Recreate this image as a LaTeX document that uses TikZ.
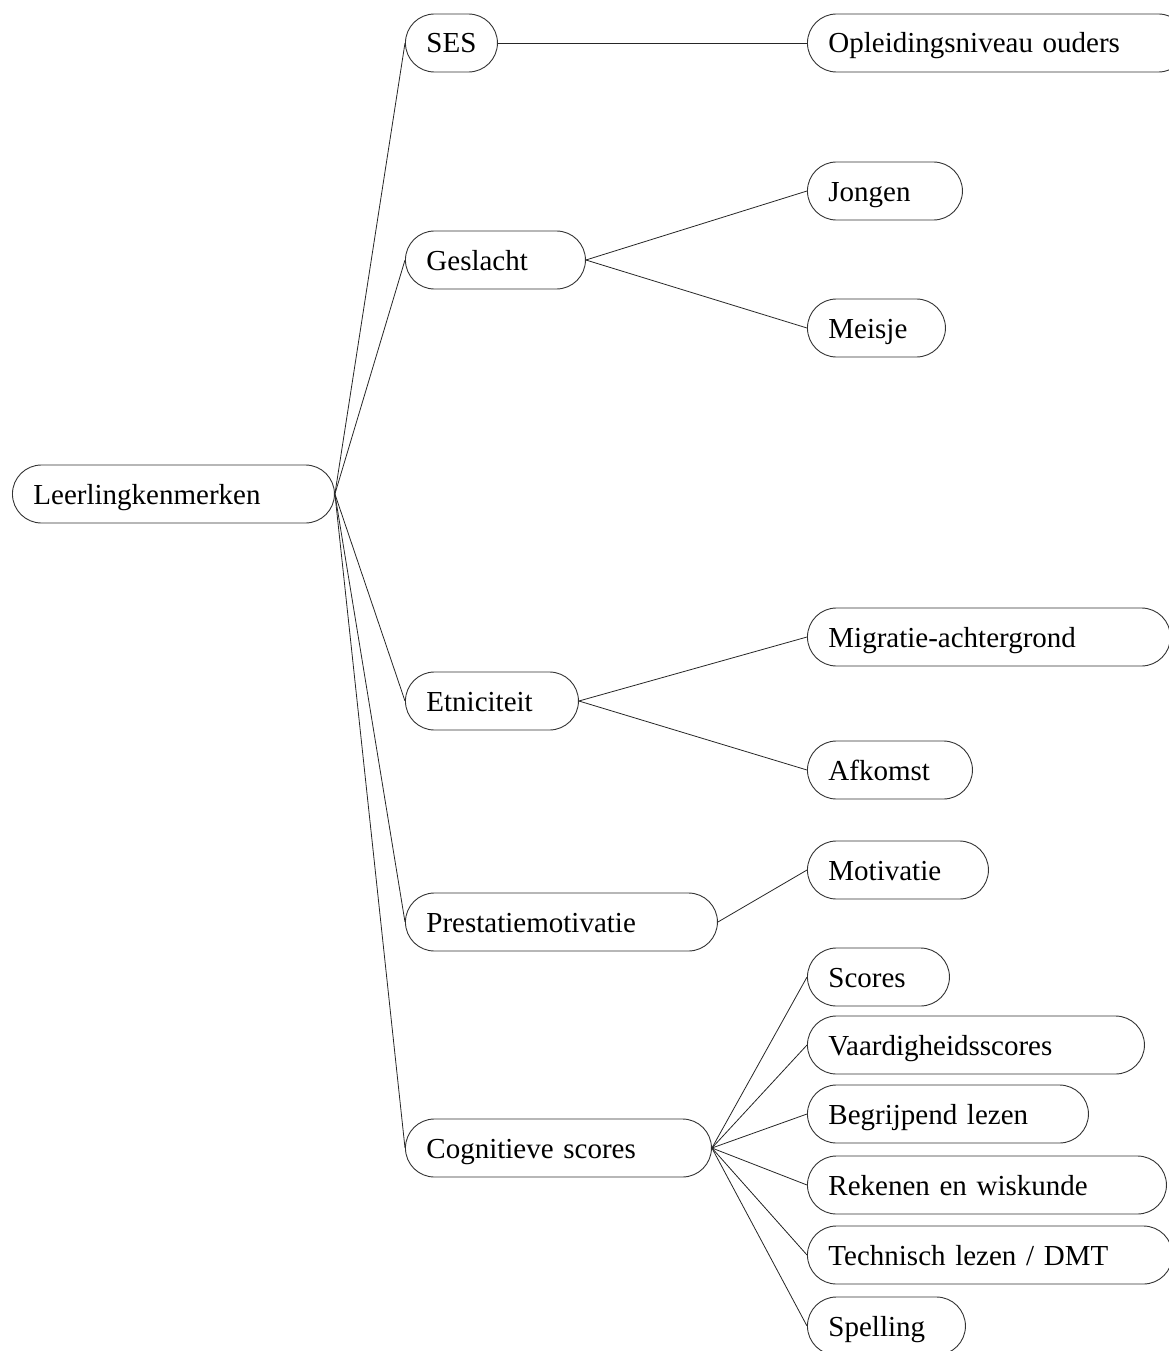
\documentclass[tikz,border=0pt]{standalone}
\usepackage{fontspec}
\setmainfont{Liberation Serif}
\usepackage{tikz}
\usetikzlibrary{positioning}

\tikzset{
  kenmerk/.style={draw=black!80, line width=0.9pt, rounded corners=29pt,
    minimum height=58pt, inner xsep=21pt, inner ysep=0pt, anchor=west,
    text height=25pt, text depth=5pt,
    align=left, text width=#1, font=\fontsize{29}{34}\selectfont},
  tak/.style={draw=black!85, line width=0.8pt}
}

\begin{document}
\begin{tikzpicture}[x=1pt, y=-1pt]
        \useasboundingbox (0,0) rectangle (1169,1351);
        \clip (0,0) rectangle (1169,1351);
        % root
        \node[kenmerk=280pt] (leerling) at (12,494) {Leerlingkenmerken};
        % first level
        \node[kenmerk=50pt] (ses) at (405,43) {SES};
        \node[kenmerk=138pt] (geslacht) at (405,260) {Geslacht};
        \node[kenmerk=131pt] (etniciteit) at (405,701) {Etniciteit};
        \node[kenmerk=270pt] (prestatie) at (405,922) {Prestatiemotivatie};
        \node[kenmerk=264pt] (cognitief) at (405,1148) {Cognitieve scores};
        % second level
        \node[kenmerk=338pt] (opleiding) at (807,43) {Opleidingsniveau ouders};
        \node[kenmerk=113pt] (jongen) at (807,191) {Jongen};
        \node[kenmerk=96pt] (meisje) at (807,328) {Meisje};
        \node[kenmerk=321pt] (migratie) at (807,637) {Migratie-achtergrond};
        \node[kenmerk=123pt] (afkomst) at (807,770) {Afkomst};
        \node[kenmerk=139pt] (motivatie) at (807,870) {Motivatie};
        \node[kenmerk=100pt] (scores) at (807,977) {Scores};
        \node[kenmerk=295pt] (vaardigheid) at (807,1045) {Vaardigheidsscores};
        \node[kenmerk=239pt] (begrijpend) at (807,1114) {Begrijpend lezen};
        \node[kenmerk=317pt] (rekenen) at (807,1185) {Rekenen en wiskunde};
        \node[kenmerk=323pt] (technisch) at (807,1255) {Technisch lezen / DMT};
        \node[kenmerk=116pt] (spelling) at (807,1326) {Spelling};
        % branches
        \foreach \kind in {ses,geslacht,etniciteit,prestatie,cognitief}
            \draw[tak] (leerling.east) -- (\kind.west);
        \draw[tak] (ses.east) -- (opleiding.west);
        \draw[tak] (geslacht.east) -- (jongen.west);
        \draw[tak] (geslacht.east) -- (meisje.west);
        \draw[tak] (etniciteit.east) -- (migratie.west);
        \draw[tak] (etniciteit.east) -- (afkomst.west);
        \draw[tak] (prestatie.east) -- (motivatie.west);
        \foreach \kind in {scores,vaardigheid,begrijpend,rekenen,technisch,spelling}
            \draw[tak] (cognitief.east) -- (\kind.west);
    \end{tikzpicture}
\end{document}
